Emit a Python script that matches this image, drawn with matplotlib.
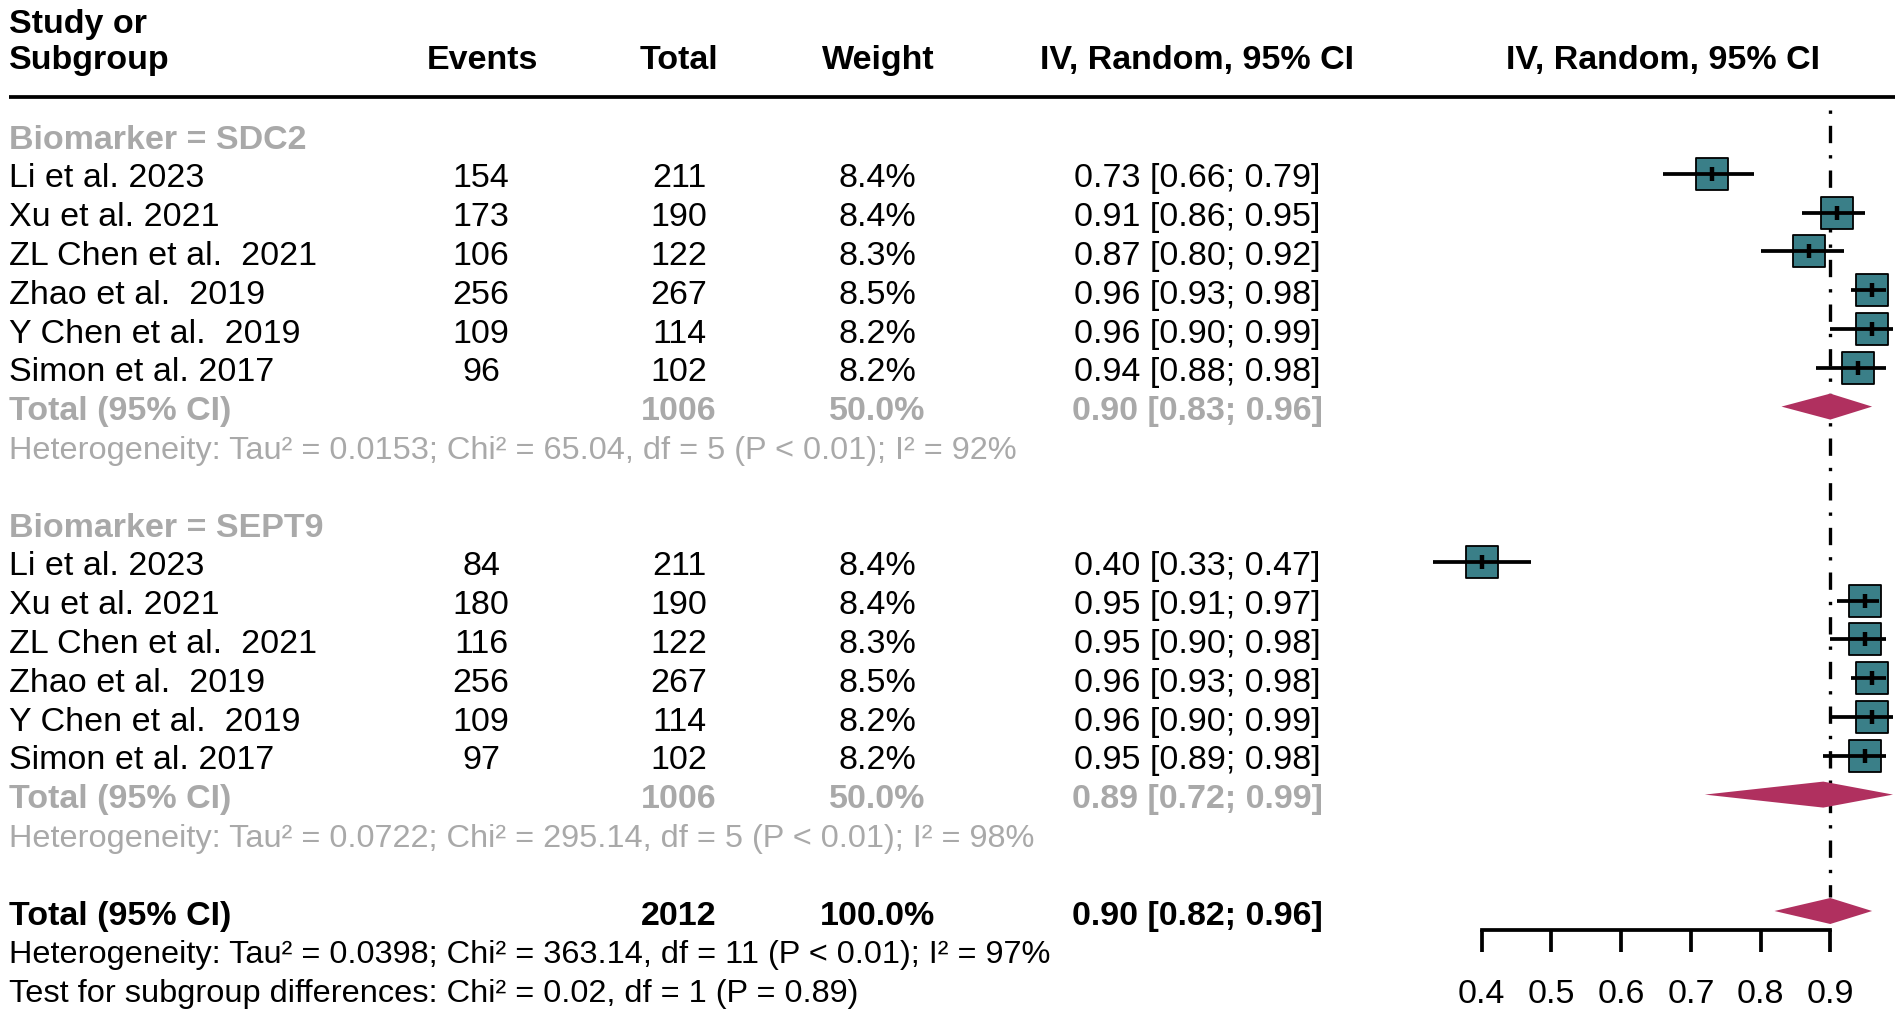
import matplotlib
matplotlib.use("Agg")
import matplotlib.pyplot as plt
import numpy as np

# ---------------- data ----------------
studies = ["Li et al. 2023", "Xu et al. 2021", "ZL Chen et al.  2021",
           "Zhao et al.  2019", "Y Chen et al.  2019", "Simon et al. 2017"]
sdc2_events = [154, 173, 106, 256, 109, 96]
sdc2_total = [211, 190, 122, 267, 114, 102]
sdc2_weight = [8.4, 8.4, 8.3, 8.5, 8.2, 8.2]
sdc2_est = [0.73, 0.91, 0.87, 0.96, 0.96, 0.94]
sdc2_lo = [0.66, 0.86, 0.80, 0.93, 0.90, 0.88]
sdc2_hi = [0.79, 0.95, 0.92, 0.98, 0.99, 0.98]

sept9_events = [84, 180, 116, 256, 109, 97]
sept9_total = [211, 190, 122, 267, 114, 102]
sept9_weight = [8.4, 8.4, 8.3, 8.5, 8.2, 8.2]
sept9_est = [0.40, 0.95, 0.95, 0.96, 0.96, 0.95]
sept9_lo = [0.33, 0.91, 0.90, 0.93, 0.90, 0.89]
sept9_hi = [0.47, 0.97, 0.98, 0.98, 0.99, 0.98]

group_names = ["Biomarker = SDC2", "Biomarker = SEPT9"]
group_total_n = [1006, 1006]
group_weight = [50.0, 50.0]
group_est = [0.90, 0.89]
group_lo = [0.83, 0.72]
group_hi = [0.96, 0.99]
group_het = [
    "Heterogeneity: Tau² = 0.0153; Chi² = 65.04, df = 5 (P < 0.01); I² = 92%",
    "Heterogeneity: Tau² = 0.0722; Chi² = 295.14, df = 5 (P < 0.01); I² = 98%",
]

overall_n = 2012
overall_weight = 100.0
overall_est, overall_lo, overall_hi = 0.90, 0.82, 0.96
overall_het = "Heterogeneity: Tau² = 0.0398; Chi² = 363.14, df = 11 (P < 0.01); I² = 97%"
subgroup_test = "Test for subgroup differences: Chi² = 0.02, df = 1 (P = 0.89)"

ref_value = 0.90
xticks = [0.4, 0.5, 0.6, 0.7, 0.8, 0.9]
xticklabels = ["0.4", "0.5", "0.6", "0.7", "0.8", "0.9"]

col_headers = ["Events", "Total", "Weight", "IV, Random, 95% CI"]

# ---------------- style ----------------
plt.rcParams["font.family"] = ["Liberation Sans", "DejaVu Sans"]
FS = 24.5
FS_HET = 23.4
GRAY = "#A9A9A9"
SQ_COL = "#3A7F88"
DIA_COL = "#B0305F"
LW = 2.7

W, H = 1901, 1013
fig = plt.figure(figsize=(W / 100, H / 100), dpi=100)

# row geometry (row r centred at pixel 135 + 38.8 r)
ROW0, ROWH = 135.0, 38.8
ylim = ((H - ROW0) / ROWH, -ROW0 / ROWH)

tab = fig.add_axes([0, 0, 1, 1])
tab.set_xlim(0, W)
tab.set_ylim(*ylim)
tab.axis("off")

ax_l, ax_r = 1433, 1893
ax = fig.add_axes([ax_l / W, 0, (ax_r - ax_l) / W, 1])
ax.set_xlim(0.33, 0.99)
ax.set_ylim(*ylim)
ax.patch.set_visible(False)
for s in ["left", "right", "top"]:
    ax.spines[s].set_visible(False)
ax.set_yticks([])

# column positions (pixels)
X_LAB = 9
X_EV, X_TOT, X_WT, X_CI = 481, 679, 877, 1197
X_HDR = [482, 679, 878, 1197]

BASE = 0.35  # baseline offset (rows) below row centre


def row_text(r, strings, color="black", weight="normal", size=FS):
    lab, ev, tot, wt, ci = strings
    if lab:
        tab.text(X_LAB, r + BASE, lab, ha="left", va="baseline", color=color,
                 fontweight=weight, fontsize=size)
    for x, s in zip([X_EV, X_TOT, X_WT, X_CI], [ev, tot, wt, ci]):
        if s:
            tab.text(x, r + BASE, s, ha="center", va="baseline", color=color,
                     fontweight=weight, fontsize=size)


# header
hdr_base = (69 - ROW0) / ROWH
tab.text(X_LAB, (33 - ROW0) / ROWH, "Study or", ha="left", va="baseline",
         fontweight="bold", fontsize=FS)
tab.text(X_LAB, hdr_base, "Subgroup", ha="left", va="baseline",
         fontweight="bold", fontsize=FS)
for x, s in zip(X_HDR, col_headers):
    tab.text(x, hdr_base, s, ha="center", va="baseline", fontweight="bold", fontsize=FS)
ax.text(0.5, hdr_base, "IV, Random, 95% CI", transform=ax.get_yaxis_transform(),
        ha="center", va="baseline", fontweight="bold", fontsize=FS)
tab.plot([9, 1895], [(97 - ROW0) / ROWH] * 2, color="black", lw=LW,
         solid_capstyle="butt")

groups = [
    (sdc2_events, sdc2_total, sdc2_weight, sdc2_est, sdc2_lo, sdc2_hi),
    (sept9_events, sept9_total, sept9_weight, sept9_est, sept9_lo, sept9_hi),
]

SQ_SIDE = 32 * 0.72  # points for weight 8.4
DIA_H = 13.0 / ROWH

start = 0
for g, (ev, tot, wt, est, lo, hi) in enumerate(groups):
    r0 = start
    tab.text(X_LAB, r0 + BASE, group_names[g], ha="left", va="baseline",
             color=GRAY, fontweight="bold", fontsize=FS)
    rows = np.arange(r0 + 1, r0 + 1 + len(studies))
    for i, r in enumerate(rows):
        row_text(r, [studies[i], str(ev[i]), str(tot[i]), f"{wt[i]:.1f}%",
                     f"{est[i]:.2f} [{lo[i]:.2f}; {hi[i]:.2f}]"])
    sizes = [(SQ_SIDE ** 2) * (w / 8.4) for w in wt]
    ax.scatter(est, rows, s=sizes, marker="s", facecolor=SQ_COL,
               edgecolor="black", linewidth=1.3, zorder=3, clip_on=False)
    ax.hlines(rows, lo, hi, color="black", lw=LW, zorder=4, clip_on=False)
    ax.scatter(est, rows, s=9.5 ** 2, marker="|", color="black",
               linewidth=3.2, zorder=5, clip_on=False)
    rt = r0 + 1 + len(studies)
    row_text(rt, ["Total (95% CI)", "", str(group_total_n[g]),
                  f"{group_weight[g]:.1f}%",
                  f"{group_est[g]:.2f} [{group_lo[g]:.2f}; {group_hi[g]:.2f}]"],
             color=GRAY, weight="bold")
    ax.fill([group_lo[g], group_est[g], group_hi[g], group_est[g]],
            [rt, rt - DIA_H, rt, rt + DIA_H], color=DIA_COL, lw=0, zorder=3,
            clip_on=False)
    tab.text(X_LAB, rt + 1 + BASE, group_het[g], ha="left", va="baseline",
             color=GRAY, fontsize=FS_HET)
    start = rt + 3

# overall
ro = start
row_text(ro, ["Total (95% CI)", "", str(overall_n), f"{overall_weight:.1f}%",
              f"{overall_est:.2f} [{overall_lo:.2f}; {overall_hi:.2f}]"],
         weight="bold")
ax.fill([overall_lo, overall_est, overall_hi, overall_est],
        [ro, ro - DIA_H, ro, ro + DIA_H], color=DIA_COL, lw=0, zorder=3,
        clip_on=False)
tab.text(X_LAB, ro + 1 + BASE, overall_het, ha="left", va="baseline",
         fontsize=FS_HET)
tab.text(X_LAB, ro + 2 + BASE, subgroup_test, ha="left", va="baseline",
         fontsize=FS_HET)

# reference line
ax.plot([ref_value, ref_value], [(110 - ROW0) / ROWH, (897 - ROW0) / ROWH],
        color="black", lw=2.4, linestyle=(0, (1.0, 3.6, 5.2, 3.6)),
        zorder=1, clip_on=False)

# x axis
ax.spines["bottom"].set_position(("data", (930 - ROW0) / ROWH))
ax.spines["bottom"].set_bounds(xticks[0], xticks[-1])
ax.spines["bottom"].set_linewidth(LW)
ax.spines["bottom"].set_capstyle("projecting")
ax.set_xticks(xticks)
ax.set_xticklabels(xticklabels, fontsize=FS)
ax.tick_params(axis="x", direction="out", length=16, width=LW, pad=19)

fig.savefig("out.png", dpi=100)
